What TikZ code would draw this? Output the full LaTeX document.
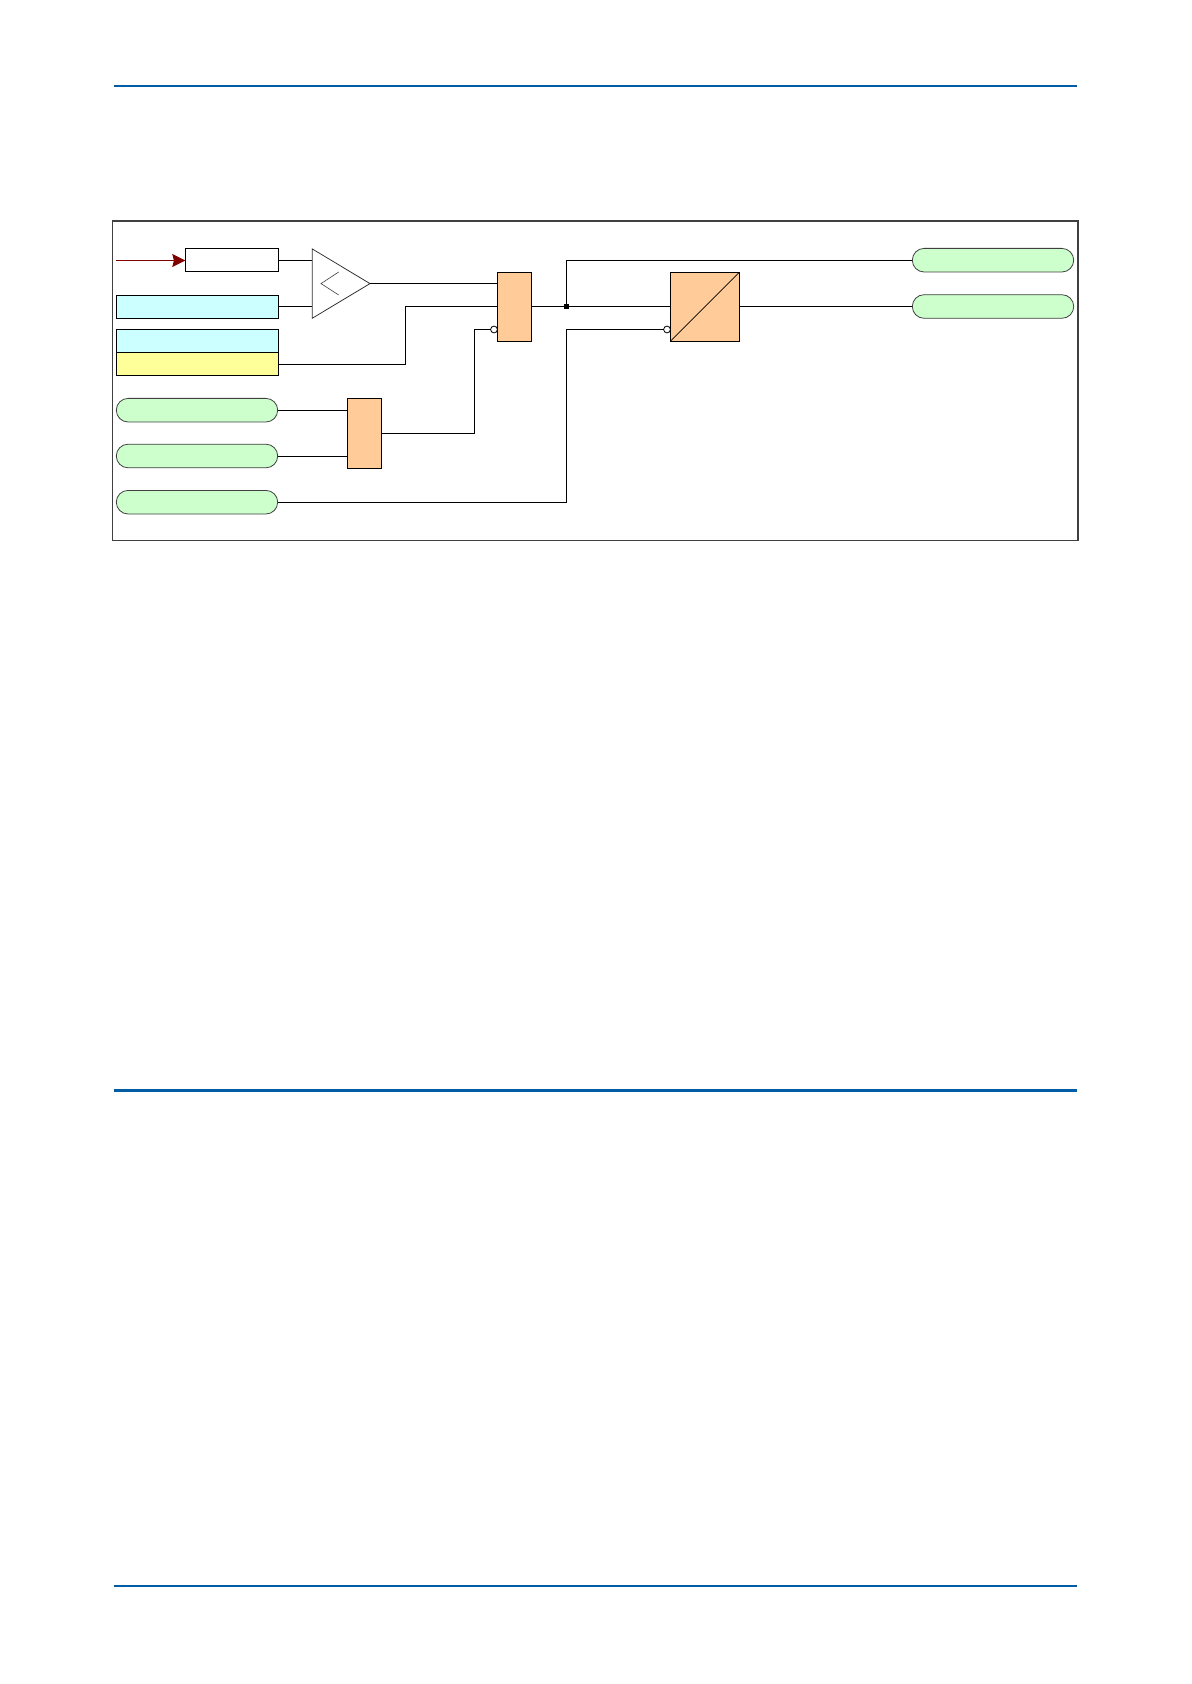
\documentclass[tikz,border=0pt]{standalone}
\usetikzlibrary{arrows.meta, shapes.geometric, shapes.misc}
\definecolor{rulecol}{HTML}{005DA5}
\definecolor{framecol}{HTML}{404040}
\definecolor{cellcyan}{HTML}{CCFFFF}
\definecolor{cellyellow}{HTML}{FFFF99}
\definecolor{cellgreen}{HTML}{CCFFCC}
\definecolor{cellorange}{HTML}{FFCC99}
\definecolor{signalred}{HTML}{800000}

\begin{document}
\begin{tikzpicture}[x=0.5pt,y=-0.5pt]

\tikzset{cell/.style = {shape=rectangle,draw,line width=.5pt,inner sep=0,outer sep=0,minimum width=81pt,minimum height=11.5pt}}
\tikzset{pill/.style = {shape=rounded rectangle,draw=black!75,line width=.4pt,fill=cellgreen,inner sep=0,outer sep=0,minimum width=80.7pt,minimum height=11.8pt}}
\tikzset{gate/.style = {shape=rectangle,draw,line width=.5pt,fill=cellorange,inner sep=0,outer sep=0,minimum width=17.2pt,minimum height=34.5pt}}
\tikzset{inverter/.style = {shape=circle,draw,line width=.4pt,fill=white,inner sep=0,outer sep=0,minimum size=3.4pt}}
\tikzset{wire/.style = {line width=.5pt}}

\useasboundingbox (0,0) rectangle (1191,1684);

%page rules
\coordinate (ruleal) at (113.5,85.7);
\coordinate (rulear) at (1077,85.7);
\coordinate (rulebl) at (113.5,1090.3);
\coordinate (rulebr) at (1077,1090.3);
\coordinate (rulecl) at (113.5,1585.7);
\coordinate (rulecr) at (1077,1585.7);
\draw [rulecol, line width=1pt] (ruleal) -- (rulear);
\draw [rulecol, line width=1.5pt] (rulebl) -- (rulebr);
\draw [rulecol, line width=1pt] (rulecl) -- (rulecr);
\draw [framecol, line width=.7pt] (112.5,221) rectangle (1078,540.3);

%blocks
\node[cell, minimum width=46.5pt] (meas) at (231.8,260.5) {};
\node[cell, fill=cellcyan] (seta) at (197.3,306.8) {};
\node[cell, fill=cellcyan] (setb) at (197.3,340.8) {};
\node[cell, fill=cellyellow] (setc) at (197.3,363.8) {};
\node[pill] (inpa) at (197,410.2) {};
\node[pill] (inpb) at (197,456) {};
\node[pill] (inpc) at (197,502.2) {};
\node[shape=isosceles triangle, isosceles triangle stretches, draw=black!80, line width=.4pt, inner sep=0, outer sep=0, minimum width=34.7pt, minimum height=28.9pt, anchor=apex] (comp) at (370,283.6) {};
\node[gate] (gatea) at (514.5,306.8) {};
\node[gate, minimum height=35pt] (gateb) at (364.5,433.3) {};
\node[gate, minimum width=34.5pt] (conv) at (704.8,306.8) {};
\node[pill] (outa) at (993,260.2) {};
\node[pill] (outb) at (993,306.5) {};
\node[inverter] (nota) at (494,329.5) {};
\node[inverter] (notb) at (667,329.5) {};
\node[shape=rectangle, fill=black, inner sep=0, outer sep=0, minimum size=2.5pt] (junc) at (566.3,306.8) {};
\coordinate (start) at (116,260.5);
\coordinate (benda) at (405.3,364.6);
\coordinate (bendb) at (474.3,433.3);

%inside of comparator and converter
\draw [black!75, line width=.3pt] (338.7,272) -- (321,283.6) -- (338.7,295);
\draw [line width=.3pt] (conv.south west) -- (conv.north east);

%connectors
\draw [signalred, line width=.5pt, -{Stealth[length=6.5pt,width=6.5pt,inset=.8pt]}] (start) -- (meas.west);
\draw [wire] (meas.east) -- (meas.east -| comp.west);
\draw [wire] (seta.east) -- (seta.east -| comp.west);
\draw [wire] (comp.apex) -- (comp.apex -| gatea.west);
\draw [wire] (setc.east |- benda) -- (benda) -- (benda |- gatea.west) -- (gatea.west);
\draw [wire] (inpa.east) -- (inpa.east -| gateb.west);
\draw [wire] (inpb.east) -- (inpb.east -| gateb.west);
\draw [wire] (gateb.east) -- (bendb) -- (bendb |- nota) -- (nota.west);
\draw [wire] (gatea.east) -- (junc);
\draw [wire] (junc) -- (conv.west);
\draw [wire] (junc) -- (junc |- outa) -- (outa.west);
\draw [wire] (conv.east) -- (conv.east -| outb.west);
\draw [wire] (inpc.east) -- (inpc.east -| junc) -- (notb -| junc) -- (notb.west);

\end{tikzpicture}
\end{document}
